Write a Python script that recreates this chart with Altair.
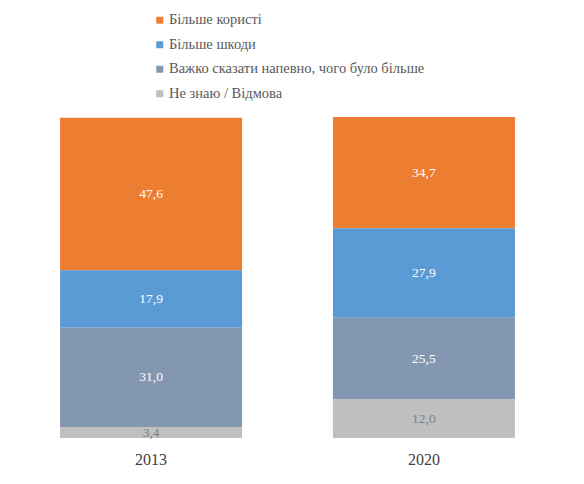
import pandas as pd
import altair as alt

# Дані з графіка
years = ["2013", "2020"]
categories = [
    "Більше користі",
    "Більше шкоди",
    "Важко сказати напевно, чого було більше",
    "Не знаю / Відмова",
]
values_2013 = [47.6, 17.9, 31.0, 3.4]
values_2020 = [34.7, 27.9, 25.5, 12.0]
colors = ["#ED7D31", "#5B9BD5", "#8497B0", "#BFBFBF"]
text_colors = ["#FFFFFF", "#FFFFFF", "#FFFFFF", "#7F7F7F"]

SERIF = "Liberation Serif"

rows = []
for year, vals in zip(years, [values_2013, values_2020]):
    for i, (cat, v) in enumerate(zip(categories, vals)):
        rows.append({
            "year": year,
            "cat": cat,
            "value": v,
            "rank": len(categories) - i,
            "label": f"{v:.1f}".replace(".", ","),
            "tcolor": text_colors[i],
        })
data = pd.DataFrame(rows)

base = alt.Chart(data).transform_stack(
    stack="value",
    groupby=["year"],
    sort=[alt.SortField("rank", order="ascending")],
    as_=["y0", "y1"]
).transform_calculate(
    mid="(datum.y0 + datum.y1) / 2"
)

x_enc = alt.X(
    "year:N",
    title=None,
    scale=alt.Scale(paddingInner=0.333, paddingOuter=0.167),
    axis=alt.Axis(
        labelAngle=0, domain=False, ticks=False, labelPadding=13,
        labelFontSize=16, labelColor="#404040", labelFont=SERIF
    ),
)
y_scale = alt.Scale(domain=[0, 100.1], nice=False, zero=True)

bars = base.mark_bar().encode(
    x=x_enc,
    y=alt.Y("y0:Q", scale=y_scale, axis=None),
    y2="y1:Q",
    color=alt.Color(
        "cat:N",
        scale=alt.Scale(domain=categories, range=colors),
        legend=alt.Legend(
            title=None, orient="none", legendX=138, legendY=-104,
            symbolType="square", symbolSize=49, symbolStrokeWidth=0,
            labelFont=SERIF, labelFontSize=14.5, labelColor="#595959",
            labelOffset=2, rowPadding=9.5, padding=0, labelLimit=400,
        ),
    ),
)

labels = base.mark_text(font=SERIF, fontSize=13.5).encode(
    x=x_enc,
    y=alt.Y("mid:Q", scale=y_scale),
    text="label:N",
    color=alt.Color("tcolor:N", scale=None),
)

chart = (bars + labels).properties(
    width=546,
    height=321,
    autosize=alt.AutoSizeParams(type="none"),
    padding={"left": 6.5, "top": 109, "right": 5, "bottom": 38},
).configure_view(stroke=None)

chart.save("out.html", embed_options={"renderer": "svg", "actions": False})
